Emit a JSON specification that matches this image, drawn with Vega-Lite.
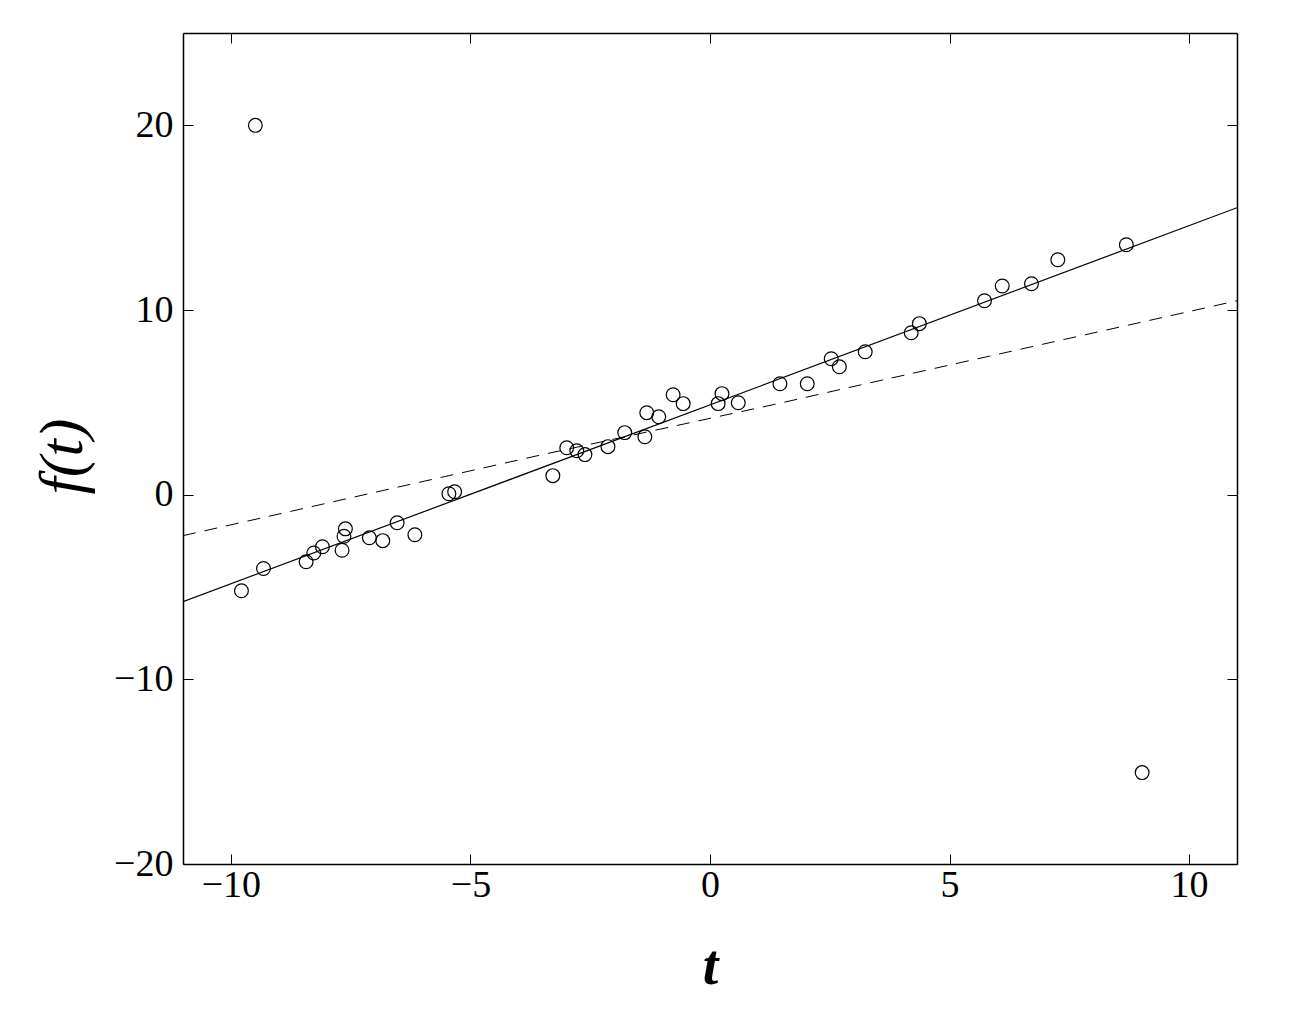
{
  "$schema": "https://vega.github.io/schema/vega-lite/v6.json",
  "width": 1054,
  "height": 831,
  "autosize": "none",
  "padding": {"left": 183, "top": 33, "right": 57, "bottom": 156},
  "background": "white",
  "config": {
    "view": {"stroke": null},
    "axis": {
      "domainColor": "black",
      "domainWidth": 1.5,
      "tickColor": "black",
      "tickWidth": 1,
      "tickSize": -10,
      "grid": false,
      "labelFont": "Liberation Serif",
      "labelFontSize": 38,
      "labelColor": "black",
      "titleFont": "Liberation Serif",
      "titleColor": "black"
    }
  },
  "datasets": {
    "obs": [
      {"t": -9.78, "f": -5.2},
      {"t": -9.49, "f": 20.0},
      {"t": -9.32, "f": -4.0},
      {"t": -8.43, "f": -3.63},
      {"t": -8.27, "f": -3.16},
      {"t": -8.09, "f": -2.82},
      {"t": -7.68, "f": -3.01},
      {"t": -7.64, "f": -2.25},
      {"t": -7.61, "f": -1.85},
      {"t": -7.11, "f": -2.33},
      {"t": -6.83, "f": -2.49},
      {"t": -6.53, "f": -1.52},
      {"t": -6.16, "f": -2.17},
      {"t": -5.45, "f": 0.05},
      {"t": -5.33, "f": 0.16},
      {"t": -3.28, "f": 1.03},
      {"t": -2.99, "f": 2.54},
      {"t": -2.78, "f": 2.38},
      {"t": -2.61, "f": 2.17},
      {"t": -2.13, "f": 2.6},
      {"t": -1.78, "f": 3.36},
      {"t": -1.36, "f": 3.14},
      {"t": -1.32, "f": 4.44},
      {"t": -1.07, "f": 4.22},
      {"t": -0.77, "f": 5.41},
      {"t": -0.56, "f": 4.93},
      {"t": 0.17, "f": 4.93},
      {"t": 0.25, "f": 5.47},
      {"t": 0.59, "f": 4.98},
      {"t": 1.46, "f": 6.01},
      {"t": 2.03, "f": 6.01},
      {"t": 2.53, "f": 7.36},
      {"t": 2.7, "f": 6.93},
      {"t": 3.24, "f": 7.74},
      {"t": 4.2, "f": 8.77},
      {"t": 4.37, "f": 9.26},
      {"t": 5.73, "f": 10.5},
      {"t": 6.1, "f": 11.3},
      {"t": 6.71, "f": 11.42},
      {"t": 7.26, "f": 12.72},
      {"t": 8.69, "f": 13.53},
      {"t": 9.02, "f": -15.05}
    ],
    "fit": [
      {"t": -11, "f": -5.79},
      {"t": 1.07, "f": 5.9},
      {"t": 11, "f": 15.54}
    ],
    "ls": [
      {"t": -11, "f": -2.22},
      {"t": -6.1, "f": 0.65},
      {"t": -3.53, "f": 2.15},
      {"t": 1.42, "f": 4.93},
      {"t": 2.88, "f": 5.79},
      {"t": 9.8, "f": 9.8},
      {"t": 11, "f": 10.5}
    ]
  },
  "resolve": {"axis": {"x": "independent", "y": "independent"}},
  "layer": [
    {
      "data": {"name": "ls"},
      "mark": {"type": "line", "color": "black", "strokeWidth": 1, "strokeDash": [13, 9], "clip": true},
      "encoding": {
        "x": {"field": "t", "type": "quantitative", "scale": {"domain": [-11, 11], "nice": false, "zero": false},
          "axis": {"orient": "bottom", "values": [-10, -5, 0, 5, 10], "labelPadding": 12, "title": "t",
            "titleFontSize": 56, "titleFontStyle": "italic", "titleFontWeight": "bold",
            "titleX": 527, "titleY": 119, "titleBaseline": "alphabetic", "titleAlign": "center"}},
        "y": {"field": "f", "type": "quantitative", "scale": {"domain": [-20, 25], "nice": false, "zero": false},
          "axis": {"orient": "left", "values": [-20, -10, 0, 10, 20], "labelPadding": 20, "title": "f(t)",
            "titleFontSize": 62, "titleFontStyle": "italic", "titleFontWeight": "normal",
            "titleX": -121, "titleY": 423, "titleAngle": -90, "titleBaseline": "middle", "titleAlign": "center"}}
      }
    },
    {
      "data": {"name": "fit"},
      "mark": {"type": "line", "color": "black", "strokeWidth": 1.2, "clip": true},
      "encoding": {
        "x": {"field": "t", "type": "quantitative",
          "axis": {"orient": "top", "values": [-10, -5, 0, 5, 10], "labels": false, "title": null}},
        "y": {"field": "f", "type": "quantitative",
          "axis": {"orient": "right", "values": [-20, -10, 0, 10, 20], "labels": false, "title": null}}
      }
    },
    {
      "data": {"name": "obs"},
      "mark": {"type": "point", "shape": "circle", "filled": false, "color": "black", "size": 190, "strokeWidth": 1.2, "opacity": 1},
      "encoding": {
        "x": {"field": "t", "type": "quantitative", "axis": null},
        "y": {"field": "f", "type": "quantitative", "axis": null}
      }
    }
  ]
}
